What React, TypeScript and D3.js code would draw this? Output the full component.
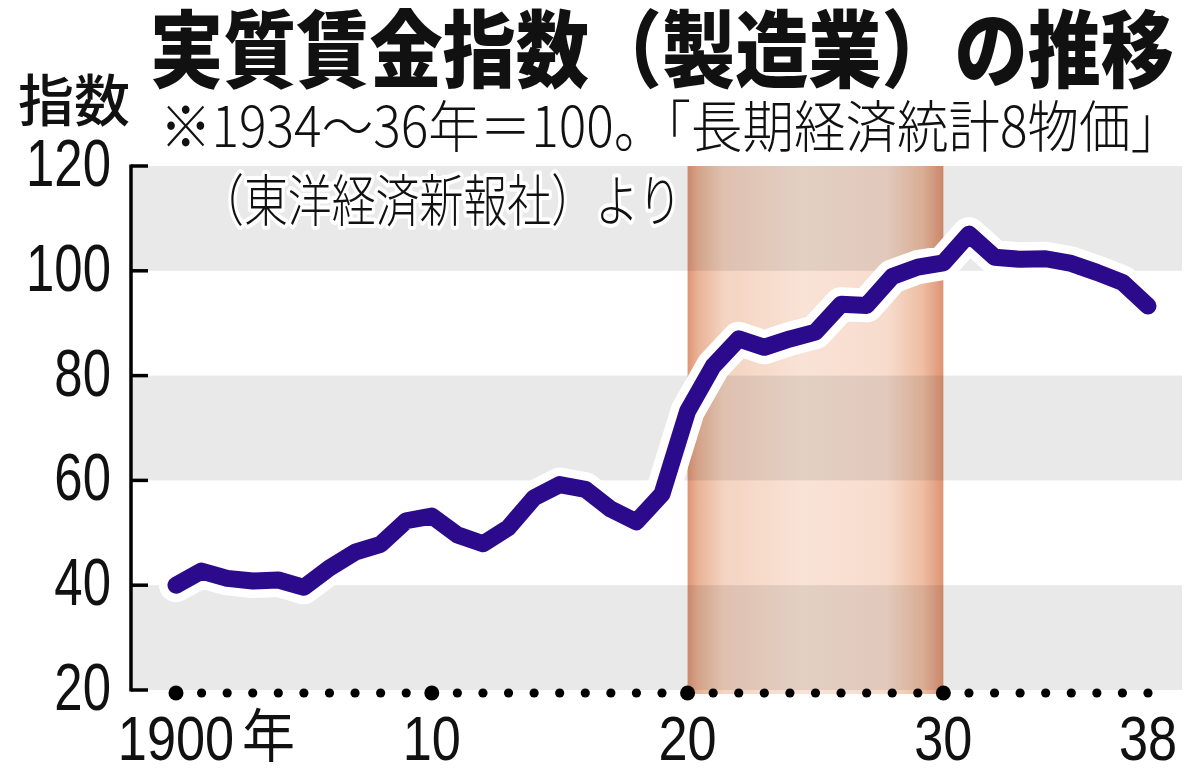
import React from "react";
import { scaleLinear, line, range } from "d3";

// 実質賃金指数（製造業）, 1934〜36年 = 100
const years = range(1900, 1939);
const wageIndex = [
  40.0, 42.7, 41.3, 40.8, 41.0, 39.6, 43.3, 46.3, 47.8, 52.3,
  53.2, 49.6, 47.9, 51.0, 56.7, 59.2, 58.3, 54.5, 52.1, 57.4,
  73.2, 81.8, 87.0, 85.4, 87.0, 88.3, 93.6, 93.4, 98.9, 100.7,
  101.5, 107.0, 102.6, 102.2, 102.3, 101.4, 99.7, 97.8, 93.3,
];
const yTicks = [20, 40, 60, 80, 100, 120];
const greyBands = [
  [20, 40],
  [60, 80],
  [100, 120],
];
const xLabels = [
  { year: 1900, label: "1900" },
  { year: 1910, label: "10" },
  { year: 1920, label: "20" },
  { year: 1930, label: "30" },
  { year: 1938, label: "38" },
];
const majorYears = [1900, 1910, 1920, 1930];
const shadedPeriod = [1920, 1930];

const W = 1200;
const H = 771;
const plotLeft = 131;
const plotRight = 1182;

const x = scaleLinear().domain([1900, 1938]).range([176, 1148]);
const y = scaleLinear().domain([20, 120]).range([690, 166]);

const numFont = "'Liberation Sans', Arial, sans-serif";
const jpFont = "'Noto Sans CJK JP', 'Noto Sans', sans-serif";

export default function App() {
  const pts = years.map((yr, i) => [yr, wageIndex[i]] as [number, number]);
  const path = line<[number, number]>()
    .x((d) => x(d[0]))
    .y((d) => y(d[1]))(pts) ?? "";

  return (
    <svg
      width={W}
      height={H}
      viewBox={`0 0 ${W} ${H}`}
      style={{ position: "absolute", left: 0, top: 0, background: "#fff" }}
    >
      <defs>
        <linearGradient id="period" x1="0" x2="1" y1="0" y2="0">
          <stop offset="0" stopColor="#e09474" />
          <stop offset="0.04" stopColor="#e9b295" />
          <stop offset="0.14" stopColor="#f4d3c1" />
          <stop offset="0.45" stopColor="#f9e3d6" />
          <stop offset="0.78" stopColor="#f7dccd" />
          <stop offset="0.92" stopColor="#eebda2" />
          <stop offset="1" stopColor="#de9373" />
        </linearGradient>
      </defs>

      {/* alternating grey bands */}
      {greyBands.map(([a, b]) => (
        <rect
          key={a}
          x={plotLeft + 2}
          y={y(b)}
          width={plotRight - plotLeft - 2}
          height={y(a) - y(b)}
          fill="#e9e9e9"
        />
      ))}

      {/* 1920s shading */}
      <rect
        x={x(shadedPeriod[0])}
        y={y(120)}
        width={x(shadedPeriod[1]) - x(shadedPeriod[0])}
        height={y(20) - y(120) + 4}
        fill="url(#period)"
        style={{ mixBlendMode: "multiply" }}
      />

      {/* y axis bracket */}
      <line x1={plotLeft} x2={plotLeft} y1={y(120) - 1.5} y2={y(20) + 1.5} stroke="#000" strokeWidth={3.5} />
      {yTicks.map((t) => (
        <g key={t}>
          <line x1={plotLeft} x2={plotLeft + 17} y1={y(t)} y2={y(t)} stroke="#000" strokeWidth={3.5} />
          <text
            transform={`translate(111,${y(t) + 20}) scale(0.76,1)`}
            textAnchor="end"
            fontFamily={numFont}
            fontSize={67}
            fill="#111"
          >
            {t}
          </text>
        </g>
      ))}

      {/* year dots */}
      {years.map((yr) => (
        <circle
          key={yr}
          cx={x(yr)}
          cy={693}
          r={majorYears.includes(yr) ? 7.5 : 4.6}
          fill="#000"
        />
      ))}

      {/* x labels */}
      {xLabels.map((d) => (
        <text
          key={d.year}
          transform={`translate(${x(d.year)},760) scale(0.83,1)`}
          textAnchor="middle"
          fontFamily={numFont}
          fontSize={63}
          fill="#111"
        >
          {d.label}
        </text>
      ))}
      <text
        x={242}
        y={757}
        fontFamily={jpFont}
        fontSize={58}
        textLength={53}
        lengthAdjust="spacingAndGlyphs"
        fill="#111"
      >
        年
      </text>

      {/* wage line with white halo */}
      <path d={path} fill="none" stroke="#fff" strokeWidth={34} strokeLinejoin="round" strokeLinecap="round" />
      <path d={path} fill="none" stroke="#2c0a8c" strokeWidth={17} strokeLinejoin="round" strokeLinecap="round" />

      {/* titles */}
      <text
        x={150}
        y={81}
        fontFamily={jpFont}
        fontWeight={900}
        fontSize={84}
        textLength={1024}
        lengthAdjust="spacingAndGlyphs"
        fill="#111"
      >
        実質賃金指数（製造業）の推移
      </text>
      <text x={18} y={121} fontFamily={jpFont} fontWeight={500} fontSize={56} fill="#111">
        指数
      </text>
      <g
        fontFamily={jpFont}
        fontWeight={300}
        fontSize={56}
        fill="#111"
        stroke="#fff"
        strokeWidth={8}
        strokeLinejoin="round"
        style={{ paintOrder: "stroke" }}
      >
        <text x={160} y={147} textLength={1022} lengthAdjust="spacingAndGlyphs">
          ※1934～36年＝100。「長期経済統計8物価」
        </text>
        <text x={200} y={221} textLength={482} lengthAdjust="spacingAndGlyphs">
          （東洋経済新報社）より
        </text>
      </g>
    </svg>
  );
}
